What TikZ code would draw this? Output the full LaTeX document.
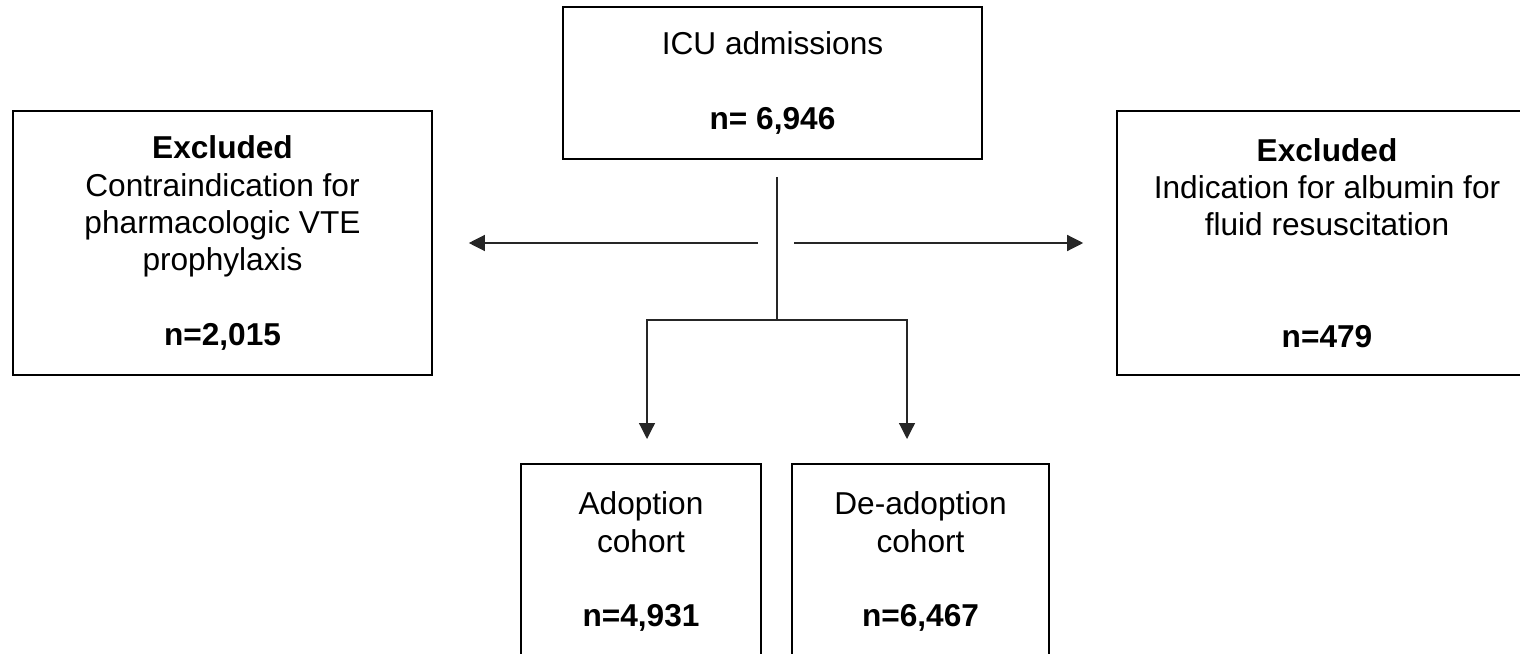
\documentclass[tikz,border=0pt]{standalone}
\usepackage{fontspec}
\setmainfont{Liberation Sans}
\usetikzlibrary{arrows.meta}

\begin{document}
\begin{tikzpicture}[scale=1,
		box/.style={draw,line width=0.9pt,align=center,inner sep=0pt,font=\fontsize{18}{21.2}\selectfont},
		flow/.style={line width=0.7pt,draw=black!85},
		arr/.style={flow,-{Triangle[length=0.32cm,width=0.32cm]}}]
		\useasboundingbox (0,0) rectangle (30.4,-13.08);
		\node[box,minimum width=8.38cm,minimum height=3.04cm] (icu) at (15.45,-1.66) {ICU admissions\\ \\ \textbf{n= 6,946}};
		\node[box,minimum width=8.38cm,minimum height=5.28cm] (exclL) at (4.45,-4.86) {\textbf{Excluded}\\Contraindication for\\pharmacologic VTE\\prophylaxis\\ \\ \textbf{n=2,015}};
		\node[box,minimum width=8.4cm,minimum height=5.28cm] (exclR) at (26.54,-4.86) {\textbf{Excluded}\\Indication for albumin for\\fluid resuscitation\\ \\ \\ \textbf{n=479}};
		\node[box,anchor=north,minimum width=4.8cm,minimum height=4.56cm] (adopt) at (12.82,-9.26) {Adoption\\cohort\\ \\ \textbf{n=4,931}\\ ~};
		\node[box,anchor=north,minimum width=5.14cm,minimum height=4.56cm] (deadopt) at (18.41,-9.26) {De-adoption\\cohort\\ \\ \textbf{n=6,467}\\ ~};
		% split point under ICU box
		\coordinate (split) at (15.54,-3.54);
		\coordinate (fork) at (15.54,-6.4);
		\coordinate (toA) at (12.94,-8.78);
		\coordinate (toD) at (18.14,-8.78);
		\coordinate (outL) at (15.16,-4.86);
		\coordinate (outR) at (15.88,-4.86);
		\draw[flow](split) -- (fork);
		\draw[arr](fork) -| (toA);
		\draw[arr](fork) -| (toD);
		\draw[arr](outL) -- ([xshift=0.72cm]exclL.east);
		\draw[arr](outR) -- ([xshift=-0.66cm]exclR.west);
\end{tikzpicture}
\end{document}
